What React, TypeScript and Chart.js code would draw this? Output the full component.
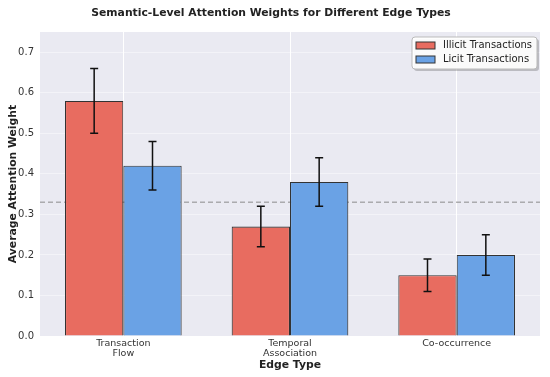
import React, { useEffect, useRef } from "react";
import { Chart, registerables } from "chart.js";

Chart.register(...registerables);

const categories: (string | string[])[] = [["Transaction", "Flow"], ["Temporal", "Association"], "Co-occurrence"];
const illicitMeans = [0.58, 0.27, 0.15];
const illicitErr = [0.08, 0.05, 0.04];
const licitMeans = [0.42, 0.38, 0.2];
const licitErr = [0.06, 0.06, 0.05];
const seriesLabels = ["Illicit Transactions", "Licit Transactions"];
const baselineValue = 0.33;
const yTicks = [0, 0.1, 0.2, 0.3, 0.4, 0.5, 0.6, 0.7];

const RED = "rgb(232,108,96)";
const BLUE = "rgb(106,162,229)";
const FONT = "'DejaVu Sans', sans-serif";

export default function App() {
  const ref = useRef<HTMLCanvasElement | null>(null);
  useEffect(() => {
    document.body.style.margin = "0";
    const errs = [illicitErr, licitErr];
    const plugin = {
      id: "custom",
      beforeDatasetsDraw(chart: any) {
        const { ctx, chartArea, scales } = chart;
        const y = scales.y.getPixelForValue(baselineValue);
        ctx.save();
        ctx.strokeStyle = "rgba(128,128,128,0.6)";
        ctx.lineWidth = 1.5;
        ctx.setLineDash([5, 3]);
        ctx.beginPath();
        ctx.moveTo(chartArea.left, y);
        ctx.lineTo(chartArea.right, y);
        ctx.stroke();
        ctx.restore();
      },
      afterDatasetsDraw(chart: any) {
        const { ctx, scales } = chart;
        ctx.save();
        ctx.strokeStyle = "#111";
        ctx.lineWidth = 1.5;
        chart.data.datasets.forEach((ds: any, di: number) => {
          const meta = chart.getDatasetMeta(di);
          meta.data.forEach((bar: any, i: number) => {
            const v = ds.data[i];
            const e = errs[di][i];
            const yt = scales.y.getPixelForValue(v + e);
            const yb = scales.y.getPixelForValue(v - e);
            const x = bar.x;
            ctx.beginPath();
            ctx.moveTo(x, yt);
            ctx.lineTo(x, yb);
            ctx.moveTo(x - 4, yt);
            ctx.lineTo(x + 4, yt);
            ctx.moveTo(x - 4, yb);
            ctx.lineTo(x + 4, yb);
            ctx.stroke();
          });
        });
        ctx.restore();
      },
      afterDraw(chart: any) {
        const { ctx } = chart;
        ctx.save();
        // title
        ctx.fillStyle = "#222";
        ctx.font = `bold 10.8px ${FONT}`;
        ctx.textAlign = "center";
        ctx.textBaseline = "middle";
        ctx.fillText("Semantic-Level Attention Weights for Different Edge Types", 271, 13);
        // legend
        const lx = 412, ly = 37, lw = 125, lh = 32;
        ctx.fillStyle = "rgba(0,0,0,0.2)";
        ctx.beginPath();
        ctx.roundRect(lx + 2, ly + 2, lw, lh, 3);
        ctx.fill();
        ctx.fillStyle = "rgba(255,255,255,0.92)";
        ctx.strokeStyle = "#bbb";
        ctx.lineWidth = 1;
        ctx.beginPath();
        ctx.roundRect(lx, ly, lw, lh, 3);
        ctx.fill();
        ctx.stroke();
        const cols = [RED, BLUE];
        seriesLabels.forEach((lab, i) => {
          const cy = ly + 8.5 + i * 14;
          ctx.fillStyle = cols[i];
          ctx.strokeStyle = "#333";
          ctx.lineWidth = 1;
          ctx.fillRect(416, cy - 3.5, 19, 7);
          ctx.strokeRect(416, cy - 3.5, 19, 7);
          ctx.fillStyle = "#222";
          ctx.font = `10px ${FONT}`;
          ctx.textAlign = "left";
          ctx.textBaseline = "middle";
          ctx.fillText(lab, 443, cy);
        });
        ctx.restore();
      },
    };
    const chart = new Chart(ref.current!, {
      type: "bar",
      data: {
        labels: categories,
        datasets: [
          {
            label: seriesLabels[0],
            data: illicitMeans,
            backgroundColor: RED,
            borderColor: "#333",
            borderWidth: 1.1,
            categoryPercentage: 0.7,
            barPercentage: 1.0,
          },
          {
            label: seriesLabels[1],
            data: licitMeans,
            backgroundColor: BLUE,
            borderColor: "#333",
            borderWidth: 1.1,
            categoryPercentage: 0.7,
            barPercentage: 1.0,
          },
        ],
      },
      options: {
        animation: false,
        responsive: false,
        layout: { padding: { top: 32, right: 10, left: 0, bottom: 0 } },
        plugins: {
          legend: { display: false },
          tooltip: { enabled: false },
          title: { display: false },
        },
        scales: {
          x: {
            grid: { color: "#fff", lineWidth: 1, offset: false, drawTicks: false },
            border: { display: false },
            ticks: { color: "#333", font: { family: FONT, size: 9.5, lineHeight: 1.05 }, padding: 3, maxRotation: 0 },
            title: { display: true, text: "Edge Type", color: "#222", font: { family: FONT, size: 10.8, weight: "bold" }, padding: { top: 0, bottom: 5 } },
            afterFit(scale: any) { scale.height = 41; },
          },
          y: {
            min: 0,
            max: 0.75,
            grid: { color: "rgba(255,255,255,0.45)", lineWidth: 1, drawTicks: false },
            border: { display: false },
            afterBuildTicks(scale: any) { scale.ticks = yTicks.map((v) => ({ value: v })); },
            ticks: {
              color: "#333",
              font: { family: FONT, size: 10 },
              padding: 6,
              includeBounds: false,
              callback: (v: any) => Number(v).toFixed(1),
            },
            title: { display: true, text: "Average Attention Weight", color: "#222", font: { family: FONT, size: 10.8, weight: "bold" }, padding: { top: 7, bottom: 0 } },
            afterFit(scale: any) { scale.width = 40; },
          },
        },
      },
      plugins: [
        {
          id: "bg",
          beforeDraw(chart: any) {
            const { ctx, chartArea } = chart;
            ctx.save();
            ctx.fillStyle = "#fff";
            ctx.fillRect(0, 0, chart.width, chart.height);
            ctx.fillStyle = "#EAEAF2";
            ctx.fillRect(chartArea.left, chartArea.top, chartArea.right - chartArea.left, chartArea.bottom - chartArea.top);
            ctx.restore();
          },
        },
        plugin,
      ],
    });
    return () => chart.destroy();
  }, []);
  return <canvas ref={ref} width={550} height={377} style={{ display: "block" }} />;
}
